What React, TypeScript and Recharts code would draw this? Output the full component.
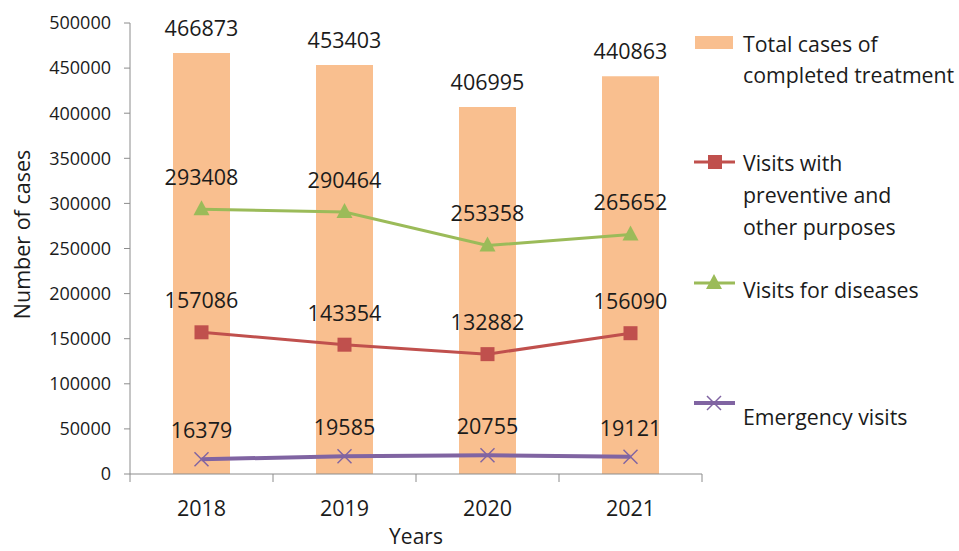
import React from 'react';
import { ComposedChart, Bar, Line, XAxis, YAxis, LabelList } from 'recharts';

const years = ['2018', '2019', '2020', '2021'];
const totalCompleted = [466873, 453403, 406995, 440863];
const preventiveVisits = [157086, 143354, 132882, 156090];
const diseaseVisits = [293408, 290464, 253358, 265652];
const emergencyVisits = [16379, 19585, 20755, 19121];
const yTicks = [0, 50000, 100000, 150000, 200000, 250000, 300000, 350000, 400000, 450000, 500000];

const FONT = '"Open Sans", "Noto Sans", sans-serif';
const TEXT = '#1b1b1b';
const AXIS = '#8c8c8c';
const ORANGE = '#F9BF8F';
const RED = '#C0504D';
const GREEN = '#9BBB59';
const PURPLE = '#8064A2';

const chartData = years.map((year, i) => ({
  year,
  total: totalCompleted[i],
  preventive: preventiveVisits[i],
  diseases: diseaseVisits[i],
  emergency: emergencyVisits[i],
}));

const SquareDot = (props: any) => {
  const { cx, cy } = props;
  if (cx == null || cy == null) return null;
  return <rect x={cx - 7} y={cy - 7} width={14} height={14} fill={RED} />;
};

const TriangleDot = (props: any) => {
  const { cx, cy } = props;
  if (cx == null || cy == null) return null;
  return <polygon points={`${cx},${cy - 9} ${cx + 8},${cy + 6} ${cx - 8},${cy + 6}`} fill={GREEN} />;
};

const CrossDot = (props: any) => {
  const { cx, cy } = props;
  if (cx == null || cy == null) return null;
  return (
    <g stroke={PURPLE} strokeWidth={1.5}>
      <line x1={cx - 7} y1={cy - 7} x2={cx + 7} y2={cy + 7} />
      <line x1={cx - 7} y1={cy + 7} x2={cx + 7} y2={cy - 7} />
    </g>
  );
};

// year label plus the tick marks between categories (Excel style)
const YearTick = (props: any) => {
  const { x, y, payload, index, width, visibleTicksCount } = props;
  const band = width / visibleTicksCount;
  const left = x - band / 2;
  const right = x + band / 2;
  return (
    <g>
      <line x1={left} y1={y} x2={left} y2={y + 8} stroke={AXIS} />
      {index === visibleTicksCount - 1 && <line x1={right} y1={y} x2={right} y2={y + 8} stroke={AXIS} />}
      <text
        x={x}
        y={y + 33}
        textAnchor="middle"
        dominantBaseline="central"
        fontFamily={FONT}
        fontSize={21.5}
        fill={TEXT}
      >
        {payload.value}
      </text>
    </g>
  );
};

const YTitle = (props: any) => {
  const { x, y, height } = props.viewBox;
  const cx = x + 21;
  const cy = y + height / 2 - 14;
  return (
    <text
      x={cx}
      y={cy}
      transform={`rotate(-90 ${cx} ${cy})`}
      textAnchor="middle"
      dominantBaseline="central"
      fontFamily={FONT}
      fontSize={21.5}
      fill={TEXT}
    >
      Number of cases
    </text>
  );
};

const XTitle = (props: any) => {
  const { x, y, width } = props.viewBox;
  return (
    <text
      x={x + width / 2}
      y={y + 62}
      textAnchor="middle"
      dominantBaseline="central"
      fontFamily={FONT}
      fontSize={21}
      fill={TEXT}
    >
      Years
    </text>
  );
};

const labelStyle = { fontFamily: FONT, fontSize: 21.5, fill: TEXT };

const legendText: React.CSSProperties = {
  position: 'absolute',
  left: 743,
  fontFamily: FONT,
  fontSize: 21.3,
  color: TEXT,
  lineHeight: '31px',
  whiteSpace: 'nowrap',
};

const App: React.FC = () => {
  return (
    <div style={{ position: 'absolute', left: 0, top: 0, width: 959, height: 551, background: '#fff' }}>
      <ComposedChart
        width={959}
        height={551}
        data={chartData}
        margin={{ top: 23, right: 257, bottom: 16, left: 0 }}
      >
        <YAxis
          domain={[0, 500000]}
          ticks={yTicks}
          interval={0}
          width={130}
          tickSize={6}
          tickMargin={13}
          axisLine={{ stroke: AXIS }}
          tickLine={{ stroke: AXIS }}
          tick={{ fontFamily: FONT, fontSize: 18, fill: TEXT }}
          label={<YTitle />}
        />
        <XAxis
          dataKey="year"
          height={61}
          interval={0}
          tickLine={false}
          tickSize={0}
          tickMargin={0}
          axisLine={{ stroke: AXIS }}
          tick={<YearTick />}
          label={<XTitle />}
        />
        <Bar dataKey="total" fill={ORANGE} barSize={57} isAnimationActive={false}>
          <LabelList dataKey="total" position="top" offset={17} style={labelStyle} />
        </Bar>
        <Line
          dataKey="preventive"
          stroke={RED}
          strokeWidth={3}
          dot={<SquareDot />}
          activeDot={false}
          isAnimationActive={false}
        >
          <LabelList dataKey="preventive" position="top" offset={24} style={labelStyle} />
        </Line>
        <Line
          dataKey="diseases"
          stroke={GREEN}
          strokeWidth={3}
          dot={<TriangleDot />}
          activeDot={false}
          isAnimationActive={false}
        >
          <LabelList dataKey="diseases" position="top" offset={24} style={labelStyle} />
        </Line>
        <Line
          dataKey="emergency"
          stroke={PURPLE}
          strokeWidth={4}
          dot={<CrossDot />}
          activeDot={false}
          isAnimationActive={false}
        >
          <LabelList dataKey="emergency" position="top" offset={21} style={labelStyle} />
        </Line>
      </ComposedChart>

      {/* legend */}
      <svg width={50} height={420} style={{ position: 'absolute', left: 690, top: 20 }}>
        <rect x={5} y={16} width={38} height={13} fill={ORANGE} />
        <line x1={4} y1={142} x2={45} y2={142} stroke={RED} strokeWidth={3} />
        <rect x={18} y={135} width={14} height={14} fill={RED} />
        <line x1={4} y1={263} x2={45} y2={263} stroke={GREEN} strokeWidth={3} />
        <polygon points="24,254 32,269 16,269" fill={GREEN} />
        <line x1={4} y1={383} x2={45} y2={383} stroke={PURPLE} strokeWidth={4} />
        <line x1={17} y1={376} x2={31} y2={390} stroke={PURPLE} strokeWidth={1.5} />
        <line x1={17} y1={390} x2={31} y2={376} stroke={PURPLE} strokeWidth={1.5} />
      </svg>
      <div style={{ ...legendText, top: 28 }}>
        Total cases of
        <br />
        completed treatment
      </div>
      <div style={{ ...legendText, top: 147, lineHeight: '32px' }}>
        Visits with
        <br />
        preventive and
        <br />
        other purposes
      </div>
      <div style={{ ...legendText, top: 274 }}>Visits for diseases</div>
      <div style={{ ...legendText, top: 401 }}>Emergency visits</div>
    </div>
  );
};

export default App;
